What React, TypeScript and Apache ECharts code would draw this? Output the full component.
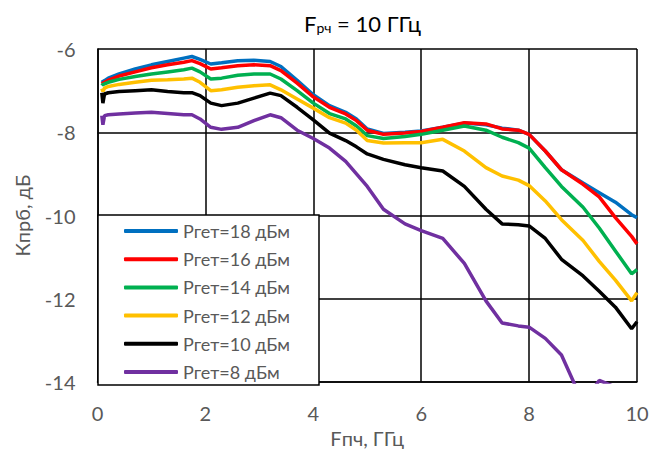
import React, { useEffect, useRef } from "react";
import * as echarts from "echarts";

const freq = [0.08, 0.1, 0.13, 0.2, 0.4, 0.7, 1.0, 1.3, 1.6, 1.75, 1.9, 2.1, 2.3, 2.6, 2.9, 3.2, 3.4, 3.7, 4.0, 4.3, 4.6, 4.8, 5.0, 5.3, 5.7, 6.0, 6.4, 6.8, 7.2, 7.5, 7.8, 8.0, 8.3, 8.6, 9.0, 9.3, 9.6, 9.9, 10.0];

const p18 = [-6.8, -6.78, -6.76, -6.7, -6.6, -6.48, -6.38, -6.3, -6.22, -6.18, -6.25, -6.36, -6.33, -6.28, -6.27, -6.3, -6.42, -6.75, -7.1, -7.36, -7.52, -7.68, -7.92, -8.03, -8.0, -7.97, -7.88, -7.78, -7.82, -7.9, -7.95, -8.05, -8.45, -8.9, -9.22, -9.45, -9.68, -9.98, -10.05];
const p16 = [-6.84, -6.82, -6.8, -6.75, -6.65, -6.55, -6.45, -6.38, -6.32, -6.28, -6.35, -6.48, -6.45, -6.4, -6.38, -6.4, -6.52, -6.82, -7.15, -7.4, -7.56, -7.72, -7.95, -8.05, -8.02, -7.98, -7.88, -7.77, -7.8, -7.92, -7.95, -8.05, -8.45, -8.9, -9.25, -9.55, -10.05, -10.5, -10.68];
const p14 = [-6.88, -6.85, -6.84, -6.8, -6.73, -6.66, -6.6, -6.55, -6.5, -6.46, -6.55, -6.72, -6.7, -6.63, -6.6, -6.6, -6.72, -7.0, -7.3, -7.55, -7.68, -7.85, -8.08, -8.15, -8.1, -8.05, -7.95, -7.85, -7.95, -8.12, -8.25, -8.38, -8.85, -9.3, -9.8, -10.3, -10.85, -11.4, -11.3];
const p12 = [-6.95, -7.02, -6.94, -6.9, -6.85, -6.8, -6.75, -6.74, -6.72, -6.7, -6.8, -7.0, -6.98, -6.92, -6.88, -6.86, -6.98, -7.2, -7.42, -7.65, -7.78, -7.95, -8.2, -8.26, -8.25, -8.25, -8.17, -8.45, -8.85, -9.05, -9.15, -9.28, -9.65, -10.1, -10.6, -11.1, -11.55, -12.05, -11.85];
const p10 = [-7.05, -7.3, -7.08, -7.05, -7.02, -7.0, -6.98, -7.02, -7.05, -7.05, -7.12, -7.3, -7.36, -7.3, -7.18, -7.06, -7.12, -7.4, -7.7, -8.02, -8.2, -8.35, -8.52, -8.65, -8.78, -8.85, -8.93, -9.3, -9.85, -10.2, -10.22, -10.25, -10.55, -11.05, -11.45, -11.82, -12.2, -12.72, -12.55];
const p8 = [-7.6, -7.82, -7.6, -7.58, -7.56, -7.54, -7.52, -7.55, -7.58, -7.58, -7.68, -7.88, -7.93, -7.88, -7.72, -7.58, -7.65, -7.95, -8.15, -8.38, -8.7, -9.0, -9.3, -9.85, -10.2, -10.36, -10.55, -11.15, -12.05, -12.58, -12.65, -12.68, -12.95, -13.35, -14.5, -13.96, -14.12, -14.6, -14.7];

const seriesNames = ["Pгет=18 дБм", "Pгет=16 дБм", "Pгет=14 дБм", "Pгет=12 дБм", "Pгет=10 дБм", "Pгет=8 дБм"];
const seriesValues = [p18, p16, p14, p12, p10, p8];
const seriesColors = ["#0070C0", "#FF0000", "#00B050", "#FFC000", "#000000", "#7030A0"];

const xTicks = [0, 2, 4, 6, 8, 10];
const yTicks = [-14, -12, -10, -8, -6];

const FONT = "Lato";
const GRAY = "#595959";

export default function App() {
  const ref = useRef<HTMLDivElement>(null);
  useEffect(() => {
    if (!ref.current) return;
    const chart = echarts.init(ref.current, undefined, { renderer: "svg" });
    chart.setOption({
      animation: false,
      backgroundColor: "#fff",
      grid: { left: 97.5, right: 27, top: 49, bottom: 69 },
      xAxis: {
        type: "value",
        min: xTicks[0],
        max: xTicks[xTicks.length - 1],
        interval: 2,
        name: "Fпч, ГГц",
        nameLocation: "middle",
        nameGap: 39,
        nameTextStyle: { fontFamily: FONT, fontSize: 20, color: GRAY },
        axisLine: { show: true, lineStyle: { color: "#000", width: 1.5 } },
        axisTick: { show: false },
        axisLabel: { fontFamily: FONT, fontSize: 20, color: GRAY, margin: 21 },
        splitLine: { show: true, lineStyle: { color: "#000", width: 1.5 } },
      },
      yAxis: {
        type: "value",
        min: yTicks[0],
        max: yTicks[yTicks.length - 1],
        interval: 2,
        name: "Кпрб, дБ",
        nameLocation: "middle",
        nameGap: 66,
        nameTextStyle: { fontFamily: FONT, fontSize: 20, color: GRAY },
        axisLine: { show: true, onZero: false, lineStyle: { color: "#000", width: 1.5 } },
        axisTick: { show: false },
        axisLabel: { fontFamily: FONT, fontSize: 20, color: GRAY, margin: 22 },
        splitLine: { show: true, lineStyle: { color: "#000", width: 1.5 } },
      },
      legend: {
        orient: "vertical",
        left: 98,
        top: 216,
        padding: [5, 10, 4, 26],
        itemWidth: 54,
        itemHeight: 4,
        itemGap: 8.2,
        icon: "roundRect",
        textStyle: { fontFamily: FONT, fontSize: 18, color: GRAY, lineHeight: 20 },
        z: 20,
        data: seriesNames,
      },
      graphic: [
        {
          type: "rect",
          z: 15,
          shape: { x: 98, y: 215, width: 221, height: 170 },
          style: { fill: "#fff", stroke: "#000", lineWidth: 1.5 },
        },
        {
          type: "text",
          z: 20,
          x: 362.5,
          y: 21,
          style: {
            text: "{a|F}{b|рч}{a| = 10 ГГц}",
            align: "center",
            verticalAlign: "middle",
            rich: {
              a: { fontFamily: FONT, fontSize: 22, fontWeight: "normal", fill: "#000", lineHeight: 26, verticalAlign: "bottom" },
              b: { fontFamily: FONT, fontSize: 14, fontWeight: "normal", fill: "#000", lineHeight: 26, verticalAlign: "bottom" },
            },
          },
        },
      ],
      series: seriesNames.map((name, i) => ({
        name,
        type: "line",
        data: freq.map((f, j) => [f, seriesValues[i][j]]),
        symbol: "none",
        clip: true,
        lineStyle: { color: seriesColors[i], width: 3.5 },
        itemStyle: { color: seriesColors[i] },
        z: 5,
      })),
    });
    return () => chart.dispose();
  }, []);
  return <div ref={ref} style={{ position: "fixed", left: 0, top: 0, width: 664, height: 453 }} />;
}
